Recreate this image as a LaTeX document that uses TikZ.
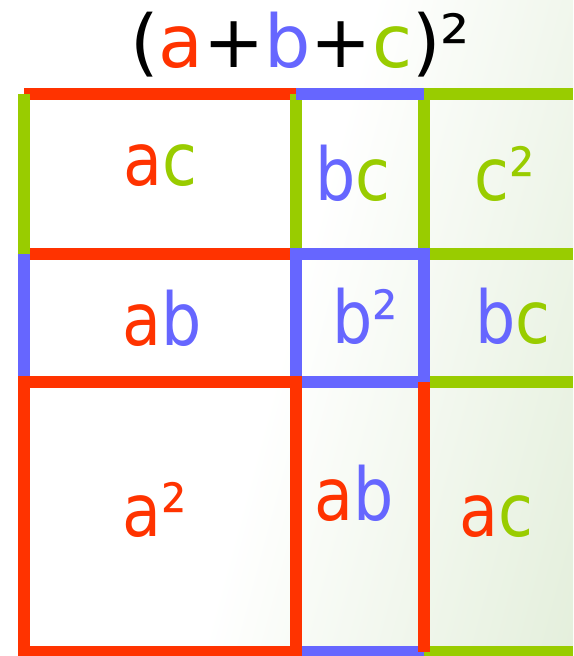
\documentclass[tikz,border=0pt]{standalone}
\usepackage{fontspec}
\setmainfont{DejaVu Sans}
\usepackage{xcolor}
\definecolor{cred}{HTML}{FF3300}
\definecolor{cblue}{HTML}{6666FF}
\definecolor{cgreen}{HTML}{99CC00}
\definecolor{bgreen}{HTML}{D3E5C6}
\pgfdeclarehorizontalshading{bgfade}{100bp}{color(0bp)=(white); color(50bp)=(white); color(100bp)=(bgreen)}

\begin{document}
\begin{tikzpicture}[x=1pt, y=-1pt,
  edge/.style={line width=11.5pt, draw=#1},
  sq/.style={line width=11.5pt, draw=#1, line join=miter},
  headline/.style={anchor=base, inner sep=0pt, font=\fontsize{73}{80}\selectfont},
  term/.style={headline, xscale=0.87, transform shape}]
  \useasboundingbox (0,0) rectangle (573,656);
  \clip (0,0) rectangle (573,656);
  % background
  \shade[shading=bgfade, shading angle=-15] (0,0) rectangle (573,656);
  % red rules of the top rows
  \draw[edge=cred] (24,94) -- (296,94);
  \draw[edge=cred] (24,254) -- (296,254);
  % green rules
  \draw[edge=cgreen] (24,94) -- (24,254);
  \draw[edge=cgreen] (296,94) -- (296,254);
  \draw[edge=cgreen] (424,94) -- (424,254);
  \draw[edge=cgreen] (424,94) -- (573,94);
  \draw[edge=cgreen] (424,254) -- (573,254);
  \draw[edge=cgreen] (424,382) -- (573,382);
  \draw[edge=cgreen] (424,652) -- (573,652);
  % blue rules
  \draw[edge=cblue] (296,94) -- (424,94);
  \draw[edge=cblue] (24,254) -- (24,382);
  \draw[edge=cblue] (296,652) -- (424,652);
  \draw[sq=cblue] (296,254) rectangle (424,382);
  % red rules of the bottom row
  \draw[sq=cred] (24,382) rectangle (296,652);
  \draw[edge=cred] (296,382) -- (296,652);
  \draw[edge=cred] (424,382) -- (424,652);
  % terms
  \node[headline] (title) at (300,67) {(\textcolor{cred}{a}+\textcolor{cblue}{b}+\textcolor{cgreen}{c})²};
  \node[term] (ac1) at (160,185) {\textcolor{cred}{a}\textcolor{cgreen}{c}};
  \node[term] (bc1) at (353,200) {\textcolor{cblue}{b}\textcolor{cgreen}{c}};
  \node[term, text=cgreen] (cc) at (505,200) {c²};
  \node[term] (ab1) at (162,345) {\textcolor{cred}{a}\textcolor{cblue}{b}};
  \node[term, text=cblue] (bb) at (365,343) {b²};
  \node[term] (bc2) at (513,343) {\textcolor{cblue}{b}\textcolor{cgreen}{c}};
  \node[term, text=cred] (aa) at (155,536) {a²};
  \node[term] (ab2) at (354,520) {\textcolor{cred}{a}\textcolor{cblue}{b}};
  \node[term] (ac2) at (496,536) {\textcolor{cred}{a}\textcolor{cgreen}{c}};
\end{tikzpicture}
\end{document}
